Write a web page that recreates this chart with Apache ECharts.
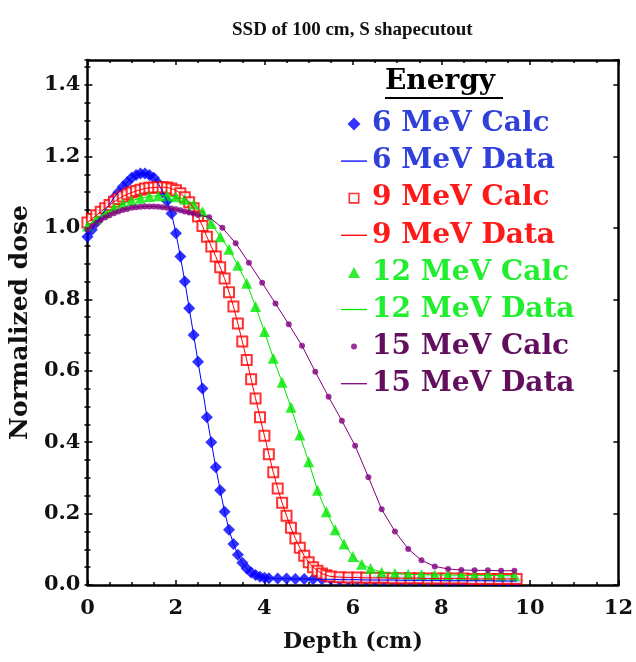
<!DOCTYPE html>
<html>
<head>
<meta charset="utf-8">
<script src="https://cdn.jsdelivr.net/npm/echarts@6/dist/echarts.min.js"></script>
<style>
  html, body { margin: 0; padding: 0; background: #fff; }
  #chart { width: 636px; height: 662px; }
</style>
</head>
<body>
<div id="chart"></div>
<script>
// Depth-dose curves, SSD 100 cm, S-shaped cutout.
// Depth in cm, dose normalised.

// 6 MeV
const depth6 = [0,0.1,0.2,0.3,0.4,0.5,0.6,0.7,0.8,0.9,1.0,1.1,1.2,1.3,1.4,1.5,1.6,1.7,1.8,1.9,2.0,2.1,2.2,2.3,2.4,2.5,2.6,2.7,2.8,2.9,3.0,3.1,3.2,3.3,3.4,3.5,3.6,3.7,3.8,3.9,4.0,
  4.1,4.3,4.5,4.7,4.9,5.1,5.3,5.5,5.7,5.9,6.1,6.3,6.5,6.7,6.9,7.1,7.3,7.5,7.7,7.9,8.1,8.3,8.5,8.7,8.9,9.1,9.3,9.5,9.7];
const calc6 = [0.975,0.995,1.015,1.032,1.05,1.066,1.084,1.10,1.115,1.128,1.14,1.148,1.152,1.152,1.148,1.14,1.125,1.10,1.075,1.04,0.985,0.92,0.85,0.775,0.70,0.625,0.55,0.47,0.40,0.33,0.265,0.205,0.155,0.115,0.085,0.062,0.046,0.035,0.028,0.023,0.02,
  0.019,0.018,0.018,0.017,0.017,0.016,0.016,0.016,0.015,0.015,0.015,0.014,0.014,0.014,0.014,0.013,0.013,0.013,0.013,0.013,0.012,0.012,0.012,0.012,0.012,0.012,0.011,0.011,0.011];
const meas6 = [0.975,0.995,1.015,1.032,1.05,1.066,1.084,1.10,1.115,1.128,1.14,1.148,1.152,1.152,1.148,1.14,1.125,1.10,1.075,1.04,0.985,0.92,0.85,0.775,0.70,0.625,0.55,0.47,0.40,0.33,0.265,0.205,0.155,0.115,0.085,0.062,0.046,0.035,0.028,0.023,0.02,
  0.019,0.018,0.018,0.017,0.017,0.016,0.016,0.016,0.015,0.015,0.015,0.014,0.014,0.014,0.014,0.013,0.013,0.013,0.013,0.013,0.012,0.012,0.012,0.012,0.012,0.012,0.011,0.011,0.011];

// 9 MeV
const depth9 = [0,0.1,0.2,0.3,0.4,0.5,0.6,0.7,0.8,0.9,1.0,1.1,1.2,1.3,1.4,1.5,1.6,1.7,1.8,1.9,2.0,2.1,2.2,2.3,2.4,2.5,2.6,2.7,2.8,2.9,3.0,3.1,3.2,3.3,3.4,3.5,3.6,3.7,3.8,3.9,4.0,4.1,4.2,4.3,4.4,4.5,4.6,4.7,4.8,4.9,5.0,5.1,5.2,5.3,5.4,5.5,
  5.7,5.9,6.1,6.3,6.5,6.7,6.9,7.1,7.3,7.5,7.7,7.9,8.1,8.3,8.5,8.7,8.9,9.1,9.3,9.5,9.7];
const calc9 = [1.015,1.025,1.035,1.045,1.055,1.064,1.073,1.081,1.088,1.094,1.099,1.103,1.107,1.11,1.112,1.113,1.114,1.114,1.113,1.11,1.105,1.097,1.086,1.072,1.055,1.032,1.005,0.975,0.948,0.92,0.89,0.858,0.82,0.78,0.732,0.682,0.63,0.576,0.522,0.47,0.418,0.366,0.316,0.27,0.23,0.194,0.16,0.13,0.104,0.082,0.064,0.05,0.04,0.032,0.027,0.024,
  0.022,0.021,0.021,0.02,0.02,0.02,0.019,0.019,0.019,0.019,0.018,0.018,0.018,0.018,0.018,0.017,0.017,0.017,0.017,0.017,0.017];
const meas9 = [1.015,1.025,1.035,1.045,1.055,1.064,1.073,1.081,1.088,1.094,1.099,1.103,1.107,1.11,1.112,1.113,1.114,1.114,1.113,1.11,1.105,1.097,1.086,1.072,1.055,1.032,1.005,0.975,0.948,0.92,0.89,0.858,0.82,0.78,0.732,0.682,0.63,0.576,0.522,0.47,0.418,0.366,0.316,0.27,0.23,0.194,0.16,0.13,0.104,0.082,0.064,0.05,0.04,0.032,0.027,0.024,
  0.022,0.021,0.021,0.02,0.02,0.02,0.019,0.019,0.019,0.019,0.018,0.018,0.018,0.018,0.018,0.017,0.017,0.017,0.017,0.017,0.017];

// 12 MeV
const depth12 = [0,0.2,0.4,0.6,0.8,1.0,1.2,1.4,1.6,1.8,2.0,2.2,2.4,2.6,2.8,3.0,3.2,3.4,3.6,3.8,4.0,4.2,4.4,4.6,4.8,5.0,5.2,5.4,5.6,5.8,6.0,6.2,6.4,
  6.65,6.95,7.25,7.55,7.85,8.15,8.45,8.75,9.05,9.35,9.65];
const calc12 = [1.005,1.025,1.042,1.056,1.067,1.076,1.083,1.088,1.09,1.09,1.087,1.08,1.066,1.045,1.012,0.975,0.94,0.895,0.845,0.78,0.71,0.635,0.568,0.498,0.42,0.345,0.265,0.205,0.155,0.115,0.08,0.058,0.046,
  0.036,0.032,0.03,0.029,0.028,0.028,0.027,0.027,0.027,0.026,0.026];
const meas12 = [1.005,1.025,1.042,1.056,1.067,1.076,1.083,1.088,1.09,1.09,1.087,1.08,1.066,1.045,1.012,0.975,0.94,0.895,0.845,0.78,0.71,0.635,0.568,0.498,0.42,0.345,0.265,0.205,0.155,0.115,0.08,0.058,0.046,
  0.036,0.032,0.03,0.029,0.028,0.028,0.027,0.027,0.027,0.026,0.026];

// 15 MeV
const depth15 = [0,0.1,0.2,0.3,0.4,0.5,0.6,0.7,0.8,0.9,1.0,1.1,1.2,1.3,1.4,1.5,1.6,1.7,1.8,1.9,2.0,2.1,2.2,2.3,2.4,2.5,
  2.75,3.05,3.35,3.65,3.95,4.25,4.55,4.85,5.15,5.45,5.75,6.05,6.35,6.65,6.95,7.25,7.55,7.85,8.15,8.45,8.75,9.05,9.35,9.65];
const calc15 = [0.995,1.005,1.014,1.022,1.029,1.035,1.041,1.046,1.05,1.053,1.056,1.058,1.059,1.06,1.06,1.06,1.059,1.058,1.056,1.054,1.052,1.049,1.046,1.043,1.04,1.036,
  1.03,1.0,0.957,0.902,0.846,0.788,0.73,0.67,0.597,0.527,0.46,0.39,0.302,0.212,0.15,0.101,0.069,0.052,0.045,0.042,0.041,0.041,0.04,0.04];
const meas15 = [0.995,1.005,1.014,1.022,1.029,1.035,1.041,1.046,1.05,1.053,1.056,1.058,1.059,1.06,1.06,1.06,1.059,1.058,1.056,1.054,1.052,1.049,1.046,1.043,1.04,1.036,
  1.03,1.0,0.957,0.902,0.846,0.788,0.73,0.67,0.597,0.527,0.46,0.39,0.302,0.212,0.15,0.101,0.069,0.052,0.045,0.042,0.041,0.041,0.04,0.04];

const xTicks = [0, 2, 4, 6, 8, 10, 12];
const yTicks = [0.0, 0.2, 0.4, 0.6, 0.8, 1.0, 1.2, 1.4];
const legendNames = ['6 MeV Calc', '6 MeV Data', '9 MeV Calc', '9 MeV Data',
                     '12 MeV Calc', '12 MeV Data', '15 MeV Calc', '15 MeV Data'];

const SERIF = '"DejaVu Serif", serif';
const TITLE_SERIF = '"Liberation Serif", serif';

const BLUE = '#0000ff', RED = '#ff0000', GREEN = '#00e800', PURPLE = '#800080';
const BLUE_TXT = '#3040d8', RED_TXT = '#ff1a1a', GREEN_TXT = '#22ee30', PURPLE_TXT = '#62105e';

const Y_MAX = 1.47;

const pairs = (xs, ys) => xs.map((x, i) => [x, ys[i]]);

const axisLineStyle = { color: '#000', width: 2.5 };
const tickStyle = { color: '#000', width: 1.5 };
const labelStyle = { fontFamily: SERIF, fontWeight: 'bold', fontSize: 21, color: '#111' };

function xAxisDef(pos, withLabels) {
  return {
    type: 'value', position: pos, min: xTicks[0], max: xTicks[xTicks.length - 1], interval: 2,
    axisLine: { show: true, onZero: false, lineStyle: axisLineStyle },
    axisTick: { show: true, inside: true, length: 5, lineStyle: tickStyle },
    minorTick: { show: true, splitNumber: 4, length: 3, lineStyle: tickStyle },
    splitLine: { show: false },
    axisLabel: withLabels ? { show: true, margin: 13, ...labelStyle } : { show: false },
    name: withLabels ? 'Depth (cm)' : '',
    nameLocation: 'middle', nameGap: 46,
    nameTextStyle: { fontFamily: SERIF, fontWeight: 'bold', fontSize: 22, color: '#111' }
  };
}
// major y ticks every 0.2, labelled
function yAxisDef(pos, withLabels) {
  return {
    type: 'value', position: pos, min: 0, max: Y_MAX, interval: 0.2,
    axisLine: { show: true, onZero: false, lineStyle: axisLineStyle },
    axisTick: { show: true, inside: true, length: 5, lineStyle: tickStyle },
    splitLine: { show: false },
    axisLabel: withLabels ? {
      show: true, margin: 7, showMaxLabel: false, ...labelStyle,
      formatter: v => (yTicks.some(t => Math.abs(t - v) < 1e-9) ? v.toFixed(1) : '')
    } : { show: false },
    name: withLabels ? 'Normalized dose' : '',
    nameLocation: 'middle', nameGap: 46, nameRotate: 90,
    nameTextStyle: { fontFamily: SERIF, fontWeight: 'bold', fontSize: 25, color: '#111' }
  };
}
// small y ticks every 0.05
function yMinorDef(pos) {
  return {
    type: 'value', position: pos, min: 0, max: Y_MAX, interval: 0.05,
    axisLine: { show: false },
    axisTick: { show: true, inside: true, length: 3, lineStyle: tickStyle },
    splitLine: { show: false },
    axisLabel: { show: false }
  };
}

// one legend block per row; w is the drawn marker width, used to keep the
// marker centred in a 26px slot and the text at a common left edge
const LINE_ICON = 'path://M0,0H26V1.3H0Z';
const legendStyle = [
  { icon: 'path://M6,0L12,6L6,12L0,6Z', color: BLUE, text: BLUE_TXT, h: 13, w: 13 },
  { icon: LINE_ICON, color: BLUE, text: BLUE_TXT, h: 12, w: 26 },
  { icon: 'path://M0,0H11V11H0Z M1.6,1.6V9.4H9.4V1.6Z', color: RED, text: RED_TXT, h: 11, w: 11 },
  { icon: LINE_ICON, color: RED, text: RED_TXT, h: 12, w: 26 },
  { icon: 'path://M6,0L12,11L0,11Z', color: GREEN, text: GREEN_TXT, h: 11, w: 12 },
  { icon: LINE_ICON, color: GREEN, text: GREEN_TXT, h: 12, w: 26 },
  { icon: 'circle', color: PURPLE, text: PURPLE_TXT, h: 6, w: 6 },
  { icon: LINE_ICON, color: PURPLE, text: PURPLE_TXT, h: 12, w: 26 }
];
const legends = legendNames.map((name, i) => ({
  orient: 'vertical',
  left: 336 + (26 - legendStyle[i].w) / 2,
  top: 105 + i * 37.1,
  itemWidth: 26, itemHeight: legendStyle[i].h,
  selectedMode: false,
  textStyle: { fontFamily: SERIF, fontWeight: 'bold', fontSize: 28, lineHeight: 28, color: legendStyle[i].text },
  data: [{ name: name, icon: legendStyle[i].icon,
           itemStyle: { color: legendStyle[i].color, borderWidth: 0 } }]
}));

const chart = echarts.init(document.getElementById('chart'), null, { renderer: 'canvas' });

chart.setOption({
  animation: false,
  backgroundColor: '#fff',
  title: {
    text: 'SSD of 100 cm, S shapecutout',
    left: 227, top: 16,
    textStyle: { fontFamily: TITLE_SERIF, fontWeight: 'bold', fontSize: 19, color: '#111' }
  },
  grid: { left: 85, right: 15, top: 60, bottom: 77 },
  xAxis: [xAxisDef('bottom', true), xAxisDef('top', false)],
  yAxis: [yAxisDef('left', true), yAxisDef('right', false), yMinorDef('left'), yMinorDef('right')],
  legend: legends,
  graphic: [
    { type: 'text', left: 385, top: 68, z: 10,
      style: { text: 'Energy', font: 'bold 28px "DejaVu Serif"', fill: '#000' } },
    { type: 'line', z: 10, shape: { x1: 385, y1: 98, x2: 503, y2: 98 },
      style: { stroke: '#000', lineWidth: 2 } }
  ],
  series: [
    { name: '6 MeV Calc', type: 'scatter', symbol: 'diamond', symbolSize: 12,
      itemStyle: { color: BLUE }, data: pairs(depth6, calc6) },
    { name: '9 MeV Calc', type: 'scatter', symbol: 'emptyRect', symbolSize: 10,
      itemStyle: { color: RED, borderColor: RED, borderWidth: 1.5 }, data: pairs(depth9, calc9) },
    { name: '12 MeV Calc', type: 'scatter', symbol: 'triangle', symbolSize: 11,
      itemStyle: { color: GREEN }, data: pairs(depth12, calc12) },
    { name: '15 MeV Calc', type: 'scatter', symbol: 'circle', symbolSize: 6,
      itemStyle: { color: PURPLE }, data: pairs(depth15, calc15) },
    { name: '6 MeV Data', type: 'line', symbol: 'none', lineStyle: { color: BLUE, width: 1 },
      itemStyle: { color: BLUE }, data: pairs(depth6, meas6) },
    { name: '9 MeV Data', type: 'line', symbol: 'none', lineStyle: { color: RED, width: 1 },
      itemStyle: { color: RED }, data: pairs(depth9, meas9) },
    { name: '12 MeV Data', type: 'line', symbol: 'none', lineStyle: { color: GREEN, width: 1 },
      itemStyle: { color: GREEN }, data: pairs(depth12, meas12) },
    { name: '15 MeV Data', type: 'line', symbol: 'none', lineStyle: { color: PURPLE, width: 1 },
      itemStyle: { color: PURPLE }, data: pairs(depth15, meas15) }
  ]
});
</script>
</body>
</html>
